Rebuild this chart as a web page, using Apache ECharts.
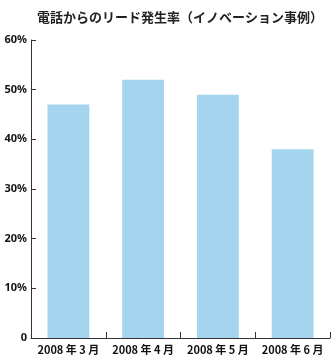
<!DOCTYPE html>
<html><head><meta charset="utf-8">
<script src="https://cdn.jsdelivr.net/npm/echarts@6/dist/echarts.min.js"></script>
<style>html,body{margin:0;padding:0;background:#fff}#c{width:331px;height:359px}</style>
</head><body><div id="c"></div>
<script>
const title = '電話からのリード発生率（イノベーション事例）';
const categories = ['2008 年 3 月', '2008 年 4 月', '2008 年 5 月', '2008 年 6 月'];
const values = [47, 52, 49, 38];
const yTicks = [0, 10, 20, 30, 40, 50, 60];

const chart = echarts.init(document.getElementById('c'));
chart.setOption({
  animation: false,
  title: { text: title, left: 175, textAlign: 'center', top: 6,
    textStyle: { fontSize: 13, fontWeight: 'bold', color: '#222', fontFamily: 'Noto Sans CJK JP' } },
  grid: { left: 31, right: 1, top: 40, bottom: 21, containLabel: false },
  xAxis: { type: 'category', data: categories,
    axisLine: { lineStyle: { color: '#333', width: 1 } },
    axisTick: { show: true, inside: true, length: 6, alignWithLabel: false, lineStyle: { color: '#333' } },
    axisLabel: { color: '#111', fontSize: 11, fontWeight: 'bold', margin: 6, interval: 0, fontFamily: 'Noto Sans CJK JP' } },
  yAxis: { type: 'value', min: 0, max: 60, interval: 10,
    axisLine: { show: true, lineStyle: { color: '#333', width: 1 } },
    axisTick: { show: true, inside: true, length: 5, lineStyle: { color: '#333' } },
    splitLine: { show: false },
    axisLabel: { color: '#111', fontSize: 11, fontWeight: 'bold', margin: 4, fontFamily: 'Noto Sans',
      formatter: v => v === 0 ? '0' : v + '%' } },
  series: [{ type: 'bar', data: values, barCategoryGap: '44%',
    itemStyle: { color: '#a5d4ef' } }]
});
</script></body></html>
